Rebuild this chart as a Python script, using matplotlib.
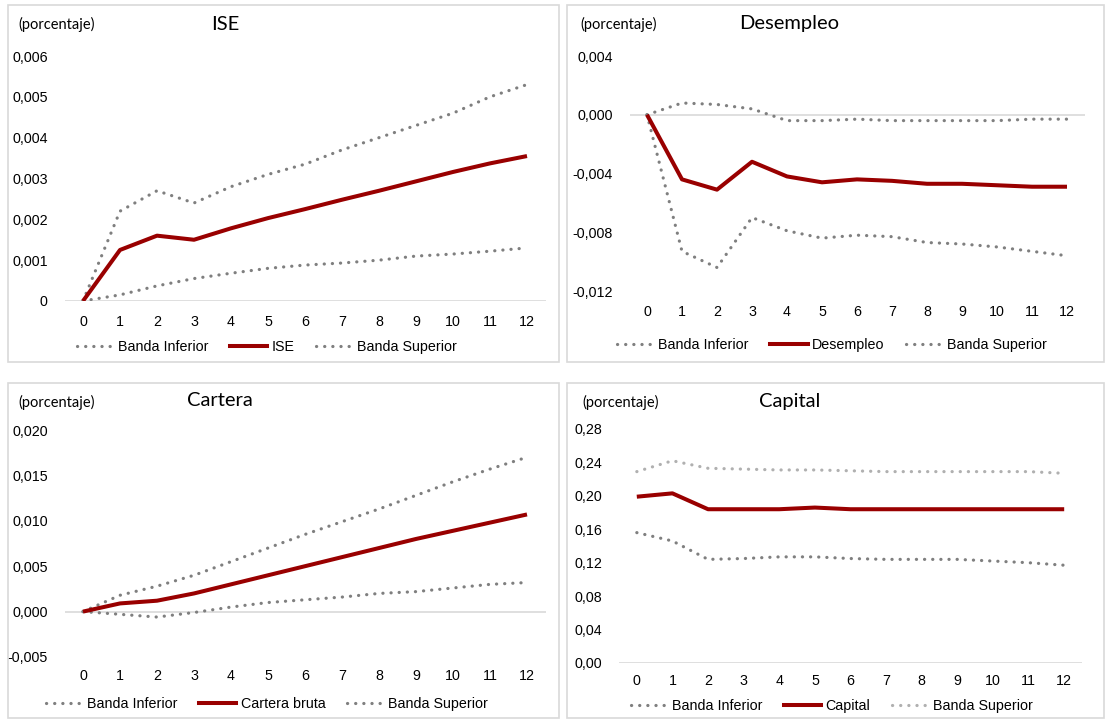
import matplotlib
matplotlib.use("Agg")
import matplotlib.pyplot as plt
import matplotlib.transforms as mtransforms
from matplotlib.patches import Rectangle
from matplotlib.lines import Line2D
from matplotlib.ticker import FuncFormatter
from matplotlib import font_manager

W, H = 1109, 721

horizons = list(range(13))

# ISE
ise_inf = [0, 0.00015, 0.00037, 0.00055, 0.00068, 0.0008, 0.00088, 0.00093, 0.001, 0.0011, 0.00115, 0.00122, 0.0013]
ise_mid = [0, 0.00125, 0.0016, 0.0015, 0.00178, 0.00203, 0.00225, 0.00248, 0.0027, 0.00293, 0.00316, 0.00337, 0.00355]
ise_sup = [0, 0.0022, 0.0027, 0.0024, 0.0028, 0.0031, 0.00335, 0.0037, 0.004, 0.0043, 0.0046, 0.005, 0.0053]

# Desempleo
des_inf = [0, 0.0008, 0.0007, 0.0004, -0.0004, -0.0004, -0.0003, -0.0004, -0.0004, -0.0004, -0.0004, -0.0003, -0.0003]
des_mid = [0, -0.0044, -0.0051, -0.0032, -0.0042, -0.0046, -0.0044, -0.0045, -0.0047, -0.0047, -0.0048, -0.0049, -0.0049]
des_sup = [0, -0.0093, -0.0104, -0.0070, -0.0079, -0.0084, -0.0082, -0.0083, -0.0087, -0.0088, -0.0090, -0.0093, -0.0096]

# Cartera
car_inf = [0, 0.0018, 0.0028, 0.004, 0.0055, 0.007, 0.0085, 0.0099, 0.0113, 0.0128, 0.0143, 0.0157, 0.017]
car_mid = [0, 0.0009, 0.0012, 0.002, 0.003, 0.004, 0.005, 0.006, 0.007, 0.008, 0.0089, 0.0098, 0.0107]
car_sup = [0, -0.0003, -0.0006, -0.0001, 0.0005, 0.001, 0.0013, 0.0016, 0.002, 0.0022, 0.0026, 0.003, 0.0032]

# Capital
cap_inf = [0.156, 0.146, 0.124, 0.125, 0.127, 0.127, 0.125, 0.124, 0.124, 0.124, 0.122, 0.120, 0.117]
cap_mid = [0.199, 0.203, 0.184, 0.184, 0.184, 0.186, 0.184, 0.184, 0.184, 0.184, 0.184, 0.184, 0.184]
cap_sup = [0.229, 0.242, 0.233, 0.232, 0.231, 0.231, 0.230, 0.229, 0.229, 0.229, 0.229, 0.229, 0.227]

ise_ticks = [0, 0.001, 0.002, 0.003, 0.004, 0.005, 0.006]
des_ticks = [-0.012, -0.008, -0.004, 0.000, 0.004]
car_ticks = [-0.005, 0.000, 0.005, 0.010, 0.015, 0.020]
cap_ticks = [0.00, 0.04, 0.08, 0.12, 0.16, 0.20, 0.24, 0.28]

installed = {f.name for f in font_manager.fontManager.ttflist}
NARROW = [f for f in ["Liberation Sans Narrow", "Liberation Sans", "DejaVu Sans"] if f in installed]
TITLEF = ["Lato", "DejaVu Sans"]
plt.rcParams["font.family"] = NARROW

RED = "#990000"
GRAY = "#7f7f7f"
LGRAY = "#b0b0b0"
AXC = "#d9d9d9"
DOT = (0, (0.05, 2.5))
DLW = 2.3
FS = 10.3

fig = plt.figure(figsize=(W / 100, H / 100), dpi=100)
fig.patch.set_facecolor("white")


def fx(px):
    return px / W


def fy(py):
    return 1 - py / H


def box(x0, y0, x1, y1):
    fig.patches.append(Rectangle((fx(x0), fy(y1)), fx(x1) - fx(x0), (y1 - y0) / H,
                                 transform=fig.transFigure, fill=False,
                                 edgecolor=AXC, linewidth=1.2, zorder=0))


def fmt_factory(dec, plain_zero=False):
    def f(v, pos):
        if plain_zero and abs(v) < 1e-12:
            return "0"
        s = f"{v:.{dec}f}".replace(".", ",")
        if s.startswith("-") and abs(v) < 1e-12:
            s = s[1:]
        return s
    return FuncFormatter(f)


panels = [
    dict(frame=(8, 5, 559, 362), ax=(64.5, 56, 545.5, 301), ylim=(0, 0.006), ticks=ise_ticks,
         dec=3, plain_zero=True, xlab_y=322, title="ISE", title_x=225, title_y=24,
         note_x=18, note_y=24, leg_x=267, leg_y=347, name="ISE",
         series=(ise_inf, ise_mid, ise_sup), sup_color=GRAY),
    dict(frame=(567, 5, 1104, 362), ax=(629.5, 56, 1084.5, 291), ylim=(-0.012, 0.004), ticks=des_ticks,
         dec=3, plain_zero=False, xlab_y=312, title="Desempleo", title_x=789, title_y=24,
         note_x=580, note_y=24, leg_x=832, leg_y=345, name="Desempleo",
         series=(des_inf, des_mid, des_sup), sup_color=GRAY),
    dict(frame=(8, 383, 559, 718), ax=(64.5, 430, 545.5, 657), ylim=(-0.005, 0.020), ticks=car_ticks,
         dec=3, plain_zero=False, xlab_y=676, title="Cartera", title_x=220, title_y=401,
         note_x=18, note_y=402, leg_x=267, leg_y=704, name="Cartera bruta",
         series=(car_inf, car_mid, car_sup), sup_color=GRAY),
    dict(frame=(567, 383, 1104, 718), ax=(619, 429, 1082, 663), ylim=(0.0, 0.28), ticks=cap_ticks,
         dec=2, plain_zero=False, xlab_y=681, title="Capital", title_x=790, title_y=401,
         note_x=582, note_y=402, leg_x=832, leg_y=706, name="Capital",
         series=(cap_inf, cap_mid, cap_sup), sup_color=LGRAY),
]

for p in panels:
    box(*p["frame"])
    x0, y0, x1, y1 = p["ax"]
    ax = fig.add_axes([fx(x0), fy(y1), fx(x1) - fx(x0), (y1 - y0) / H])
    ax.set_facecolor("none")
    inf, mid, sup = p["series"]
    ax.plot(horizons, inf, color=GRAY, lw=DLW, linestyle=DOT, dash_capstyle="round", zorder=3)
    ax.plot(horizons, sup, color=p["sup_color"], lw=DLW, linestyle=DOT, dash_capstyle="round", zorder=3)
    ax.plot(horizons, mid, color=RED, lw=2.9, solid_capstyle="butt", zorder=4)
    ax.axhline(0, color=AXC, lw=1.2, zorder=1)
    ax.set_xlim(-0.5, 12.5)
    ax.set_ylim(*p["ylim"])
    ax.set_yticks(p["ticks"])
    ax.yaxis.set_major_formatter(fmt_factory(p["dec"], p["plain_zero"]))
    ax.set_xticks([])
    for s in ax.spines.values():
        s.set_visible(False)
    ax.tick_params(axis="y", length=0, pad=12, labelsize=FS)
    # category labels under the plot area
    lab_tr = mtransforms.blended_transform_factory(ax.transData, fig.transFigure)
    for h in horizons:
        ax.text(h, fy(p["xlab_y"]), str(h), transform=lab_tr, ha="center", va="center",
                fontsize=FS)
    fig.text(fx(p["note_x"]), fy(p["note_y"]), "(porcentaje)", ha="left", va="center",
             fontsize=10.5, family=TITLEF)
    fig.text(fx(p["title_x"]), fy(p["title_y"]), p["title"], ha="center", va="center",
             fontsize=14.5, family=TITLEF)
    handles = [
        Line2D([], [], color=GRAY, lw=DLW, linestyle=DOT, dash_capstyle="round"),
        Line2D([], [], color=RED, lw=2.9),
        Line2D([], [], color=p["sup_color"], lw=DLW, linestyle=DOT, dash_capstyle="round"),
    ]
    fig.legend(handles, ["Banda Inferior", p["name"], "Banda Superior"], ncol=3,
               loc="center", bbox_to_anchor=(fx(p["leg_x"]), fy(p["leg_y"])),
               frameon=False, handlelength=2.6, handletextpad=0.3, columnspacing=1.5,
               prop={"size": FS})

fig.savefig("out.png", dpi=100, facecolor="white")
